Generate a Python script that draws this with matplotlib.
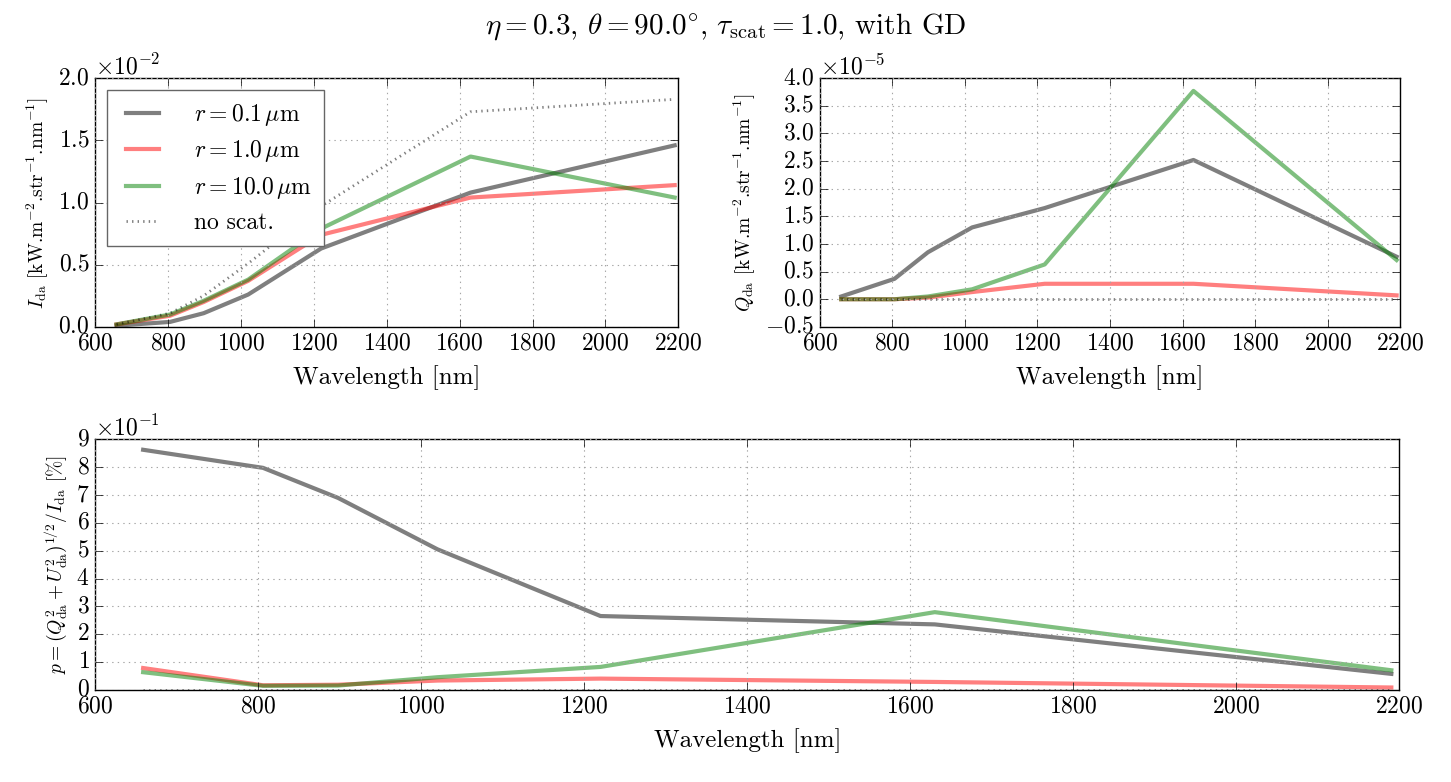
import numpy as np
import matplotlib
matplotlib.use("Agg")
import matplotlib.pyplot as plt
from matplotlib.ticker import MultipleLocator

plt.style.use('classic')
plt.rcParams['font.family'] = 'serif'
plt.rcParams['font.serif'] = ['cmr10']
plt.rcParams['mathtext.fontset'] = 'cm'
plt.rcParams['axes.formatter.use_mathtext'] = True
plt.rcParams['axes.unicode_minus'] = False

# wavelengths [nm]
wl = [659, 806, 898, 1020, 1220, 1630, 2190]
labels = [r'$r=$0.1$\,\mu$m', r'$r=$1.0$\,\mu$m', r'$r=$10.0$\,\mu$m']

# I_da  [kW.m-2.str-1.nm-1]
I_01 = [0.0001, 0.0004, 0.0011, 0.0026, 0.0063, 0.0108, 0.0146]
I_1 = [0.0002, 0.0009, 0.0020, 0.0037, 0.0074, 0.0104, 0.0114]
I_10 = [0.0002, 0.0010, 0.0021, 0.0038, 0.0079, 0.0137, 0.0104]
I_nos = [0.0002, 0.0011, 0.0025, 0.0051, 0.0097, 0.0173, 0.0183]

# Q_da
Q_01 = [0.05e-5, 0.37e-5, 0.85e-5, 1.30e-5, 1.65e-5, 2.52e-5, 0.77e-5]
Q_1 = [0.0, 0.0, 0.03e-5, 0.13e-5, 0.28e-5, 0.28e-5, 0.07e-5]
Q_10 = [0.0, 0.0, 0.05e-5, 0.18e-5, 0.63e-5, 3.77e-5, 0.71e-5]
Q_nos = [0, 0, 0, 0, 0, 0, 0]

# polarisation degree p [%]
p_01 = [0.863, 0.798, 0.690, 0.505, 0.265, 0.235, 0.057]
p_1 = [0.078, 0.016, 0.018, 0.033, 0.040, 0.028, 0.008]
p_10 = [0.063, 0.014, 0.015, 0.045, 0.082, 0.279, 0.070]
p_nos = [0, 0, 0, 0, 0, 0, 0]

cols = ['k', 'r', 'g']

fig = plt.figure(figsize=(14.51, 7.82), dpi=100, facecolor='white')
ax1 = fig.add_axes([0.0655, 0.582, 0.402, 0.318])
ax2 = fig.add_axes([0.565, 0.582, 0.400, 0.318])
ax3 = fig.add_axes([0.0655, 0.118, 0.899, 0.320])

for ax, data in [(ax1, [I_01, I_1, I_10, I_nos]),
                 (ax2, [Q_01, Q_1, Q_10, Q_nos]),
                 (ax3, [p_01, p_1, p_10, p_nos])]:
    for d, c, l in zip(data[:3], cols, labels):
        ax.plot(wl, d, color=c, alpha=0.5, lw=3, label=l)
    ax.plot(wl, data[3], 'k:', alpha=0.5, lw=2, label='no scat.')
    ax.set_xlim(600, 2200)
    ax.grid(True, color='0.65', linestyle=':', lw=0.8)
    ax.set_xlabel('Wavelength [nm]', fontsize=18, labelpad=8)
    ax.tick_params(labelsize=17, length=6, pad=4)
    ax.ticklabel_format(axis='y', style='sci', scilimits=(0, 0))
    ax.yaxis.get_offset_text().set_fontsize(17)

ax1.set_ylim(0, 0.02)
ax2.set_ylim(-0.5e-5, 4e-5)
ax2.yaxis.set_major_locator(MultipleLocator(0.5e-5))
ax3.set_ylim(0, 0.9)

ax1.set_ylabel(r'$I_{\rm da}$ [kW.m$^{-2}$.str$^{-1}$.nm$^{-1}$]', fontsize=14)
ax2.set_ylabel(r'$Q_{\rm da}$ [kW.m$^{-2}$.str$^{-1}$.nm$^{-1}$]', fontsize=14)
ax3.set_ylabel(r'$p=(Q_{\rm da}^2+U_{\rm da}^2)^{1/2}/I_{\rm da}$ [%]', fontsize=14)

leg = ax1.legend(loc='upper left', fontsize=17, framealpha=1, handlelength=2.0,
                 borderpad=0.5, labelspacing=0.45, handletextpad=1.2)
leg.get_frame().set_edgecolor('0.4')

fig.suptitle(r'$\eta=$0.3, $\theta=$90.0$^{\circ}$, $\tau_{\rm scat}=$1.0, with GD',
             fontsize=21, y=0.985)

fig.savefig('out.png', dpi=100, facecolor='white')
